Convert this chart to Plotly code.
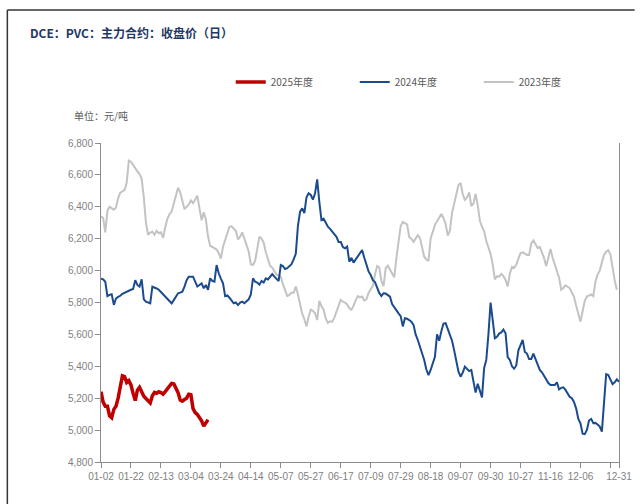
import plotly.graph_objects as go

# DCE PVC main contract, daily close (CNY/t), by trading day of the year
close_2025 = [
    5241, 5175, 5150, 5150, 5090, 5078, 5130, 5150, 5200, 5262,
    5340, 5335, 5298, 5310, 5283, 5230, 5185, 5250, 5268, 5240,
    5212, 5198, 5185, 5170, 5215, 5236, 5231, 5240, 5235, 5225,
    5241, 5258, 5280, 5293, 5290, 5265, 5235, 5189, 5182, 5192,
    5200, 5225, 5222, 5135, 5110, 5098, 5082, 5058, 5025, 5045,
    5065,
]

close_2024 = [
    5950, 5945, 5930, 5840, 5848, 5852, 5785, 5825, 5835, 5842,
    5855, 5862, 5870, 5876, 5880, 5885, 5940, 5910, 5900, 5945,
    5820, 5805, 5798, 5795, 5899, 5895, 5888, 5880, 5866, 5852,
    5840, 5826, 5810, 5795, 5815, 5840, 5858, 5862, 5868, 5900,
    5940, 5962, 5960, 5962, 5931, 5900, 5910, 5920, 5889, 5910,
    5880, 5952, 5935, 5931, 6035, 5983, 5950, 5920, 5840, 5845,
    5830, 5810, 5795, 5800, 5784, 5800, 5805, 5795, 5808, 5820,
    5850, 5952, 5930, 5925, 5912, 5935, 5925, 5952, 5945, 5960,
    5978, 5962, 5945, 5935, 6035, 6028, 6010, 6015, 6028, 6040,
    6070, 6105, 6280, 6370, 6390, 6360, 6460, 6485, 6474, 6445,
    6485, 6572, 6430, 6317, 6325, 6295, 6275, 6262, 6245, 6225,
    6212, 6180, 6180, 6148, 6140, 6150, 6056, 6080, 6050, 6070,
    6090, 6105, 6129, 6080, 6030, 5995, 5972, 5940, 5928, 5895,
    5860, 5840, 5858, 5856, 5848, 5837, 5790, 5770, 5745, 5732,
    5715, 5650, 5701, 5698, 5690, 5680, 5660, 5600, 5565, 5525,
    5490, 5440, 5380, 5345, 5377, 5420, 5460, 5600, 5560, 5620,
    5668, 5670, 5635, 5600, 5560, 5500, 5440, 5366, 5335, 5360,
    5398, 5385, 5370, 5377, 5305, 5235, 5290, 5240, 5205, 5390,
    5440, 5600, 5800, 5690, 5576, 5585, 5605, 5612, 5630, 5607,
    5458, 5440, 5400, 5385, 5405, 5500, 5535, 5565, 5490, 5480,
    5445, 5445, 5480, 5445, 5410, 5377, 5362, 5340, 5315, 5295,
    5283, 5283, 5283, 5300, 5255, 5265, 5268, 5252, 5230, 5208,
    5200, 5175, 5135, 5070, 5043, 4978, 4975, 5001, 5060, 5070,
    5043, 5045, 5035, 5022, 4990, 5150, 5350, 5345, 5320, 5288,
    5300, 5318, 5303,
]

close_2023 = [
    6340, 6330, 6240, 6375, 6400, 6390, 6382, 6395, 6455, 6488,
    6498, 6505, 6550, 6690, 6683, 6660, 6640, 6622, 6605, 6575,
    6460, 6300, 6225, 6238, 6244, 6225, 6250, 6234, 6240, 6205,
    6270, 6325, 6355, 6370, 6420, 6470, 6520, 6490, 6440, 6385,
    6400, 6415, 6440, 6422, 6445, 6470, 6390, 6315, 6365, 6320,
    6215, 6155, 6148, 6140, 6132, 6110, 6075, 6150, 6190, 6235,
    6275, 6278, 6265, 6250, 6195, 6213, 6240, 6200, 6172, 6120,
    6040, 6035, 6060, 6150, 6213, 6200, 6175, 6115, 6075, 6030,
    6018, 5994, 5975, 5968, 5962, 5915, 5875, 5840, 5848, 5862,
    5860, 5900, 5850, 5780, 5730, 5695, 5650, 5711, 5755, 5748,
    5732, 5690, 5810, 5776, 5755, 5700, 5672, 5682, 5680, 5705,
    5745, 5790, 5816, 5805, 5800, 5788, 5764, 5755, 5780, 5815,
    5840, 5832, 5837, 5812, 5820, 5860, 5880, 5905, 5975, 6028,
    6020, 5935, 5902, 6015, 6030, 6004, 5985, 5958, 6080, 6170,
    6280, 6305, 6295, 6290, 6210, 6200, 6180, 6205, 6222, 6205,
    6140, 6087, 6070, 6060, 6202, 6250, 6285, 6310, 6330, 6355,
    6330, 6292, 6220, 6250, 6362, 6420, 6490, 6537, 6550, 6480,
    6443, 6458, 6490, 6405, 6420, 6480, 6410, 6312, 6275, 6246,
    6185, 6145, 6105, 6040, 5945, 5965, 5962, 5980, 5965, 5941,
    5900, 5980, 6024, 6018, 6036, 6075, 6110, 6114, 6103, 6098,
    6098, 6170, 6190, 6162, 6142, 6148, 6112, 6078, 6028, 6080,
    6135, 6080, 6042, 6000, 5955, 5880, 5890, 5908, 5898, 5889,
    5862, 5835, 5780, 5720, 5680, 5745, 5810, 5837, 5845, 5850,
    5840, 5930, 5975, 6000, 6050, 6100, 6118, 6128, 6100, 6015,
    5938, 5880,
]

# Month-day labels shown every 14 trading days, plus the year end
tick_labels = [
    "01-02", "01-22", "02-13", "03-04", "03-24", "04-14", "05-07", "05-27",
    "06-17", "07-09", "07-29", "08-18", "09-07", "09-30", "10-27", "11-16",
    "12-06", "",
]
year_end_label = "12-31"
tick_step = 14

series = [
    ("2023年度", close_2023, "#C3C3C3", 2.0),
    ("2024年度", close_2024, "#1B4B8E", 2.0),
    ("2025年度", close_2025, "#C00000", 3.5),
]

last_day = len(close_2024) - 1
tickvals = [i * tick_step for i in range(len(tick_labels))] + [last_day]
ticktext = tick_labels + [year_end_label]

num_font = "Liberation Sans Narrow, Arial Narrow, Liberation Sans, Arial, sans-serif"
cjk_font = "Noto Sans CJK SC, Noto Sans, sans-serif"
axis_grey = "#8C8C8C"
label_grey = "#7F7F7F"

fig = go.Figure()
for name, values, color, width in series:
    fig.add_trace(go.Scatter(
        x=list(range(len(values))),
        y=values,
        mode="lines",
        name=name,
        line=dict(color=color, width=width),
    ))

W, H = 643, 504
L, R, T, B = 101, 11, 143, 42
pw, ph = W - L - R, H - T - B


def px(x):
    return (x - L) / pw


def py(y):
    return (H - B - y) / ph


fig.update_layout(
    width=W, height=H,
    margin=dict(l=L, r=R, t=T, b=B, pad=0),
    paper_bgcolor="white", plot_bgcolor="white",
    showlegend=True,
    legend=dict(
        orientation="h", traceorder="reversed",
        x=px(234), y=py(82), xanchor="left", yanchor="middle",
        font=dict(family=cjk_font, size=10, color="#595959"),
        entrywidth=79, entrywidthmode="pixels",
        bgcolor="rgba(0,0,0,0)", borderwidth=0,
    ),
    xaxis=dict(
        range=[0, last_day], tickmode="array", tickvals=tickvals, ticktext=ticktext,
        showgrid=False, zeroline=False, showline=True, linecolor=axis_grey, linewidth=1,
        ticks="outside", ticklen=5, tickcolor=axis_grey, tickwidth=1,
        tickfont=dict(family=num_font, size=10, color=label_grey), tickangle=0,
        ticklabeloverflow="allow",
    ),
    yaxis=dict(
        range=[4800, 6800], dtick=200, tick0=4800, tickformat=",d",
        showgrid=False, zeroline=False, showline=True, linecolor=axis_grey, linewidth=1,
        mirror=True,
        ticks="outside", ticklen=5, tickcolor=axis_grey, tickwidth=1,
        tickfont=dict(family=num_font, size=10, color=label_grey),
    ),
    annotations=[
        dict(text="<b>DCE：PVC：主力合约：收盘价（日）</b>", xref="paper", yref="paper",
             x=px(26), y=py(32), xanchor="left", yanchor="middle", showarrow=False,
             font=dict(family=cjk_font, size=12, color="#1F3864")),
        dict(text="单位：元/吨", xref="paper", yref="paper",
             x=px(71), y=py(115), xanchor="left", yanchor="middle", showarrow=False,
             font=dict(family=cjk_font, size=10, color="#595959")),
    ],
    shapes=[
        dict(type="line", xref="paper", yref="paper", x0=px(5), x1=px(5),
             y0=py(H + 5), y1=py(10), line=dict(color="#333333", width=1.5)),
        dict(type="line", xref="paper", yref="paper", x0=px(5), x1=px(W + 5),
             y0=py(10), y1=py(10), line=dict(color="#333333", width=1.5)),
    ],
)

fig.write_html("out.html")
